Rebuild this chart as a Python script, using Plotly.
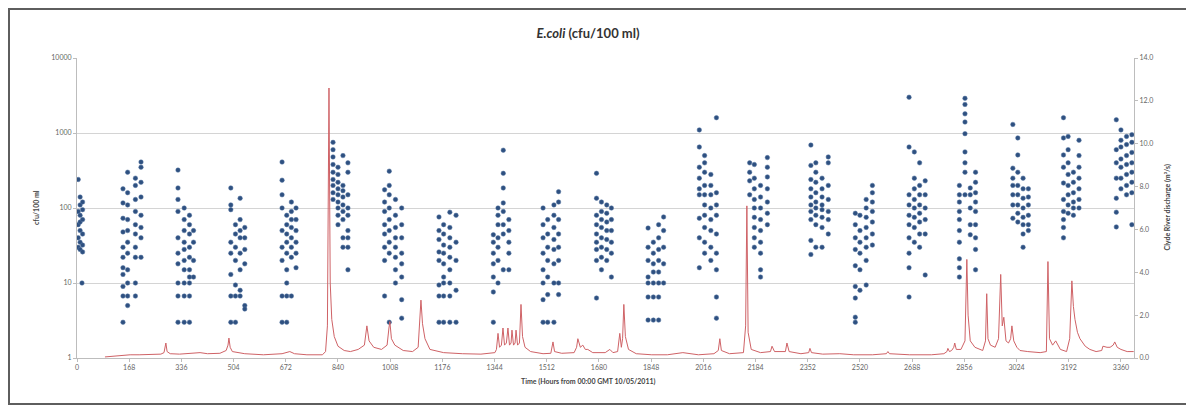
import plotly.graph_objects as go

# ---------------- data ----------------
x_tick_hours = [0, 168, 336, 504, 672, 840, 1008, 1176, 1344, 1512, 1680, 1848,
                2016, 2184, 2352, 2520, 2688, 2856, 3024, 3192, 3360]
y_left_ticks = [1, 10, 100, 1000, 10000]
y_left_labels = ["1", "10", "100", "1000", "10000"]
y_right_ticks = [0, 2, 4, 6, 8, 10, 12, 14]
y_right_labels = ["0.0", "2.0", "4.0", "6.0", "8.0", "10.0", "12.0", "14.0"]

# E. coli samples: (hour, cfu/100 ml)
ecoli_samples = [
    (4,240),(4,90),(4,60),(4,40),(4,30),(10,140),(10,110),(10,80),(10,65),(10,50),(10,35),(10,28),
    (16,10),(18,120),(18,95),(18,70),(18,45),(18,32),(18,26),
    (148,180),(148,117),(148,73),(148,48),(148,30),(148,22),(148,16),(148,13),(148,9),(148,6.7),(148,3),
    (163,300),(163,160),(163,110),(163,70),(163,50),(163,35),(163,25),(163,15),(163,10),(163,6.7),(163,5),
    (188,250),(188,200),(188,130),(188,90),(188,60),(188,45),(188,30),(188,22),(188,10),(188,6.7),
    (206,410),(206,350),(206,220),(206,140),(206,80),(206,55),(206,40),(206,22),
    (325,320),(325,185),(325,130),(325,90),(325,40),(325,25),(325,18),(325,10),(325,6.7),(325,3),
    (345,100),(345,70),(345,50),(345,35),(345,28),(345,20),(345,15),(345,10),(345,6.7),(345,3),
    (362,80),(362,60),(362,45),(362,30),(362,22),(362,15),(362,12),(362,10),(362,6.7),(362,3),
    (375,50),(375,35),(375,20),(375,12),
    (495,185),(495,110),(495,95),(495,35),(495,25),(495,13),(495,6.7),(495,3),
    (510,60),(510,45),(510,30),(510,20),(510,9.4),(510,6.7),(510,3),
    (525,135),(525,70),(525,50),(525,40),(525,25),(525,15),(525,8),(525,6.7),
    (540,55),(540,40),(540,28),(540,18),(540,5),(540,4.5),
    (660,410),(660,235),(660,150),(660,100),(660,50),(660,30),(660,20),(660,6.7),(660,3),
    (675,80),(675,60),(675,45),(675,35),(675,25),(675,15),(675,10),(675,6.7),(675,3),
    (690,120),(690,90),(690,70),(690,55),(690,40),(690,30),(690,22),(690,6.7),
    (705,100),(705,70),(705,50),(705,35),(705,25),(705,16),
    (824,750),(824,600),(824,480),(824,380),(824,300),(824,240),(824,200),(824,160),(824,130),
    (840,350),(840,280),(840,220),(840,180),(840,150),(840,120),(840,100),(840,80),(840,60),
    (856,500),(856,200),(856,170),(856,140),(856,110),(856,90),(856,70),(856,40),(856,30),
    (872,400),(872,300),(872,150),(872,100),(872,80),(872,50),(872,40),(872,30),(872,15),
    (990,175),(990,120),(990,90),(990,60),(990,45),(990,30),(990,20),(990,6.7),
    (1005,310),(1005,200),(1005,150),(1005,100),(1005,70),(1005,50),(1005,35),(1005,25),(1005,3),
    (1025,130),(1025,80),(1025,55),(1025,40),(1025,30),(1025,22),(1025,15),(1025,10),
    (1045,100),(1045,60),(1045,40),(1045,25),(1045,18),(1045,12),(1045,6),(1045,3.4),
    (1165,76),(1165,50),(1165,38),(1165,26),(1165,20),(1165,9.4),(1165,6.7),(1165,3),
    (1180,60),(1180,45),(1180,32),(1180,25),(1180,18),(1180,12),(1180,10),(1180,6.7),(1180,3),
    (1200,88),(1200,55),(1200,40),(1200,30),(1200,22),(1200,15),(1200,10),(1200,6.7),(1200,3),
    (1220,80),(1220,35),(1220,20),(1220,8),(1220,3),
    (1340,44),(1340,35),(1340,25),(1340,18),(1340,12),(1340,7.6),(1340,3),
    (1355,100),(1355,80),(1355,60),(1355,40),(1355,30),(1355,20),(1355,10),
    (1372,590),(1372,290),(1372,185),(1372,117),(1372,90),(1372,60),(1372,45),(1372,15),
    (1390,70),(1390,50),(1390,35),(1390,25),(1390,15),
    (1500,100),(1500,60),(1500,40),(1500,25),(1500,15),(1500,10),(1500,6),(1500,3),
    (1515,70),(1515,45),(1515,30),(1515,20),(1515,12),(1515,7),(1515,3),
    (1535,110),(1535,80),(1535,55),(1535,38),(1535,28),(1535,18),(1535,10),(1535,3),
    (1550,165),(1550,120),(1550,70),(1550,45),(1550,30),(1550,20),(1550,10),(1550,7),
    (1672,290),(1672,135),(1672,80),(1672,60),(1672,45),(1672,35),(1672,28),(1672,20),(1672,6.3),
    (1688,120),(1688,90),(1688,70),(1688,55),(1688,40),(1688,30),(1688,22),(1688,15),
    (1705,110),(1705,85),(1705,65),(1705,50),(1705,38),(1705,28),(1705,20),
    (1720,100),(1720,70),(1720,50),(1720,35),(1720,25),(1720,12),
    (1838,54),(1838,30),(1838,20),(1838,12),(1838,10),(1838,6.5),(1838,3.2),
    (1855,35),(1855,25),(1855,18),(1855,14),(1855,10),(1855,6.5),(1855,3.2),
    (1872,60),(1872,40),(1872,28),(1872,20),(1872,14),(1872,10),(1872,6.5),(1872,3.2),
    (1888,76),(1888,50),(1888,30),(1888,18),(1888,10),
    (2003,1100),(2003,650),(2003,350),(2003,250),(2003,180),(2003,150),(2003,73),(2003,40),(2003,16),
    (2020,500),(2020,400),(2020,300),(2020,200),(2020,150),(2020,110),(2020,80),(2020,55),(2020,35),(2020,25),
    (2040,280),(2040,200),(2040,150),(2040,100),(2040,70),(2040,50),(2040,30),(2040,20),
    (2058,1600),(2058,160),(2058,110),(2058,80),(2058,45),(2058,25),(2058,15),(2058,6.5),(2058,3.4),
    (2165,400),(2165,300),(2165,230),(2165,150),
    (2180,380),(2180,250),(2180,180),(2180,130),(2180,100),(2180,75),(2180,55),(2180,40),(2180,30),
    (2200,200),(2200,140),(2200,100),(2200,70),(2200,50),(2200,35),(2200,25),(2200,15),(2200,12),
    (2222,470),(2222,350),(2222,260),(2222,180),(2222,120),(2222,85),(2222,60),
    (2362,690),(2362,370),(2362,240),(2362,180),(2362,140),(2362,110),(2362,90),(2362,70),(2362,37),(2362,24),
    (2378,400),(2378,300),(2378,220),(2378,160),(2378,120),(2378,100),(2378,80),(2378,60),(2378,30),
    (2398,250),(2398,180),(2398,140),(2398,110),(2398,95),(2398,75),(2398,55),(2398,30),
    (2418,480),(2418,400),(2418,200),(2418,130),(2418,90),(2418,70),(2418,45),
    (2505,85),(2505,60),(2505,40),(2505,28),(2505,17),(2505,9),(2505,6.3),(2505,3.5),(2505,3),
    (2520,80),(2520,50),(2520,35),(2520,25),(2520,15),(2520,8),
    (2540,130),(2540,100),(2540,75),(2540,55),(2540,40),(2540,30),(2540,20),(2540,9.4),
    (2560,200),(2560,160),(2560,120),(2560,90),(2560,65),(2560,45),(2560,32),
    (2678,3000),(2678,650),(2678,150),(2678,110),(2678,80),(2678,60),(2678,40),(2678,25),(2678,16),(2678,6.5),
    (2695,560),(2695,250),(2695,180),(2695,130),(2695,100),(2695,75),(2695,55),(2695,35),
    (2712,400),(2712,200),(2712,150),(2712,110),(2712,85),(2712,65),(2712,45),(2712,30),
    (2730,230),(2730,150),(2730,100),(2730,70),(2730,45),(2730,12.8),
    (2840,200),(2840,150),(2840,120),(2840,90),(2840,70),(2840,50),(2840,35),(2840,21),(2840,16),(2840,12),
    (2858,2900),(2858,2400),(2858,1800),(2858,1400),(2858,980),(2858,560),(2858,400),(2858,300),(2858,150),
    (2875,185),(2875,150),(2875,100),(2875,60),(2875,44),
    (2892,300),(2892,220),(2892,160),(2892,120),(2892,90),(2892,60),(2892,40),(2892,28),(2892,15),
    (3012,1300),(3012,340),(3012,250),(3012,200),(3012,150),(3012,110),(3012,73),
    (3028,860),(3028,510),(3028,300),(3028,200),(3028,150),(3028,110),(3028,85),(3028,65),
    (3045,250),(3045,180),(3045,135),(3045,100),(3045,75),(3045,60),(3045,45),(3045,30),
    (3062,180),(3062,140),(3062,110),(3062,80),(3062,60),(3062,50),
    (3175,1600),(3175,860),(3175,510),(3175,350),(3175,215),(3175,130),(3175,90),(3175,70),(3175,55),(3175,40),
    (3190,900),(3190,600),(3190,400),(3190,280),(3190,200),(3190,150),(3190,110),(3190,85),
    (3207,300),(3207,220),(3207,160),(3207,120),(3207,100),(3207,80),
    (3225,800),(3225,500),(3225,350),(3225,250),(3225,180),(3225,130),(3225,100),
    (3345,1500),(3345,600),(3345,400),(3345,250),(3345,135),(3345,88),(3345,56),
    (3360,1100),(3360,800),(3360,650),(3360,450),(3360,350),(3360,250),(3360,180),
    (3378,900),(3378,700),(3378,500),(3378,380),(3378,280),(3378,200),(3378,150),
    (3395,950),(3395,750),(3395,550),(3395,400),(3395,300),(3395,220),(3395,160),(3395,60),
]

# Clyde river discharge: (hour, m3/s)
discharge_points = [
    (90,0.05),(110,0.08),(140,0.12),(171,0.15),(200,0.15),(235,0.18),(270,0.18),(280,0.25),
    (286,0.7),(290,0.3),(300,0.2),(330,0.18),(360,0.2),(396,0.25),(420,0.2),(460,0.22),
    (480,0.35),(486,0.6),(489,0.93),(493,0.5),(500,0.3),(540,0.2),(600,0.15),(660,0.2),
    (685,0.3),(700,0.2),(740,0.15),(790,0.15),(800,0.3),(806,1.5),(811,12.6),(815,3.5),
    (820,1.8),(828,1.0),(840,0.55),(860,0.35),(880,0.3),(905,0.4),(925,0.6),(933,1.5),
    (940,0.8),(955,0.5),(980,0.4),(998,0.6),(1004,1.4),(1007,1.7),(1012,0.9),(1023,0.6),
    (1050,0.35),(1080,0.3),(1098,0.5),(1104,1.8),(1107,2.7),(1112,1.6),(1120,0.9),
    (1136,0.4),(1180,0.25),(1240,0.2),(1300,0.18),(1345,0.25),(1350,0.4),(1355,1.15),
    (1360,0.5),(1366,0.6),(1371,1.4),(1376,0.6),(1382,0.7),(1387,1.4),(1392,0.6),(1397,0.7),
    (1400,1.3),(1405,0.6),(1410,0.7),(1413,1.3),(1418,0.6),(1424,0.7),(1429,2.5),(1434,1.0),
    (1442,0.5),(1460,0.3),(1500,0.2),(1525,0.22),(1532,0.75),(1537,0.3),(1560,0.22),
    (1600,0.25),(1608,0.5),(1612,0.9),(1620,0.5),(1628,0.6),(1636,0.4),(1644,0.4),
    (1660,0.25),(1700,0.25),(1715,0.4),(1725,0.25),(1740,0.3),(1747,1.15),(1752,0.5),
    (1756,0.9),(1760,2.5),(1765,1.0),(1775,0.4),(1800,0.2),(1850,0.15),(1900,0.15),
    (1950,0.25),(2000,0.15),(2050,0.2),(2064,0.35),(2069,0.9),(2074,0.35),(2100,0.2),
    (2145,0.25),(2152,1.5),(2156,7.1),(2160,1.2),(2170,0.4),(2200,0.25),(2232,0.3),
    (2237,0.55),(2245,0.3),(2280,0.3),(2285,0.7),(2292,0.3),(2330,0.2),(2355,0.25),
    (2359,0.45),(2364,0.25),(2400,0.18),(2455,0.2),(2500,0.15),(2560,0.15),(2605,0.2),
    (2610,0.3),(2615,0.2),(2680,0.15),(2750,0.15),(2790,0.2),(2800,0.3),(2803,0.45),
    (2808,0.3),(2815,0.35),(2822,0.5),(2825,0.7),(2830,0.4),(2845,0.4),(2858,0.8),
    (2864,4.6),(2868,2.0),(2875,0.8),(2890,0.5),(2906,0.4),(2915,0.35),(2924,0.8),
    (2928,3.0),(2932,0.9),(2940,0.6),(2955,0.5),(2966,0.9),(2973,3.9),(2978,1.5),
    (2983,1.9),(2990,0.8),(2998,0.7),(3005,0.9),(3009,1.5),(3015,0.8),(3025,0.5),
    (3035,0.35),(3060,0.3),(3100,0.25),(3120,0.3),(3125,4.5),(3130,0.9),(3140,0.6),
    (3150,0.8),(3165,0.4),(3185,0.3),(3195,0.9),(3202,3.6),(3207,2.4),(3212,1.8),
    (3220,1.2),(3228,0.9),(3245,0.55),(3260,0.4),(3280,0.3),(3298,0.35),(3302,0.55),
    (3315,0.5),(3325,0.5),(3335,0.6),(3340,0.75),(3348,0.5),(3360,0.4),(3380,0.3),(3401,0.3),
]

ecoli_hours = [h for h, v in ecoli_samples]
ecoli_values = [v for h, v in ecoli_samples]
q_hours = [h for h, q in discharge_points]
q_values = [q for h, q in discharge_points]

# ---------------- figure ----------------
# The page body has an 8px default margin, so the figure is sized/offset accordingly.
FONT = "Lato, 'Open Sans', sans-serif"
W, H = 1186, 399
fig = go.Figure()

fig.add_trace(go.Scatter(
    x=ecoli_hours, y=ecoli_values, mode="markers", yaxis="y",
    marker=dict(size=4.5, color="#2e5080", line=dict(width=0.5, color="#5474a0")),
    name="E.coli", hoverinfo="x+y",
))
fig.add_trace(go.Scatter(
    x=q_hours, y=q_values, mode="lines", yaxis="y2",
    line=dict(color="#cf6266", width=1),
    name="Clyde River discharge",
))

grid = "#d4d4d4"
axline = "#bdbdbd"
tickfont = dict(family=FONT, size=7, color="#666666")

fig.update_layout(
    width=W, height=H,
    margin=dict(l=69, r=60, t=50, b=49),
    paper_bgcolor="white", plot_bgcolor="white",
    showlegend=False,
    font=dict(family=FONT),
    xaxis=dict(
        range=[0, 3402], tickvals=x_tick_hours, ticktext=[str(v) for v in x_tick_hours],
        showgrid=False, zeroline=False, showline=True, linecolor=axline, linewidth=1,
        ticks="outside", ticklen=3, tickcolor=axline, tickfont=tickfont,
    ),
    yaxis=dict(
        type="log", range=[0, 4], tickvals=y_left_ticks, ticktext=y_left_labels,
        showgrid=True, gridcolor=grid, gridwidth=1, zeroline=False,
        showline=True, linecolor=axline, linewidth=1,
        ticks="outside", ticklen=3, tickcolor=axline, tickfont=tickfont,
    ),
    yaxis2=dict(
        overlaying="y", side="right", range=[0, 14],
        tickvals=y_right_ticks, ticktext=y_right_labels,
        showgrid=False, zeroline=False, showline=True, linecolor=axline, linewidth=1,
        ticks="outside", ticklen=3, tickcolor=axline, tickfont=tickfont,
    ),
    title=dict(
        text="<b><i>E.coli</i> (cfu/100 ml)</b>",
        x=(588 - 8) / W, xref="container", xanchor="center",
        y=1 - (33 - 8) / H, yref="container", yanchor="middle",
        font=dict(family=FONT, size=13, color="#333333"),
    ),
    annotations=[
        dict(text="<b>cfu/100 ml</b>", xref="paper", yref="paper",
             x=(30 - 77) / 1057, y=0.5, textangle=-90, showarrow=False,
             font=dict(family=FONT, size=7, color="#444444")),
        dict(text="<b>Clyde River discharge (m³/s)</b>", xref="paper", yref="paper",
             x=(1173 - 77) / 1057, y=0.5, textangle=-90, showarrow=False,
             font=dict(family=FONT, size=7, color="#444444")),
        dict(text="<b>Time (Hours from 00:00 GMT 10/05/2011)</b>", xref="paper", yref="paper",
             x=(588 - 77) / 1057, y=(358 - 388) / 300, showarrow=False,
             font=dict(family=FONT, size=7, color="#444444")),
    ],
    shapes=[
        dict(type="rect", xref="paper", yref="paper",
             x0=(9 - 77) / 1057, x1=(1190 - 77) / 1057,
             y0=(358 - 404) / 300, y1=(358 - 9) / 300,
             line=dict(color="#5e5e5e", width=2), fillcolor="rgba(0,0,0,0)", layer="below"),
    ],
)

fig.write_html("out.html")
